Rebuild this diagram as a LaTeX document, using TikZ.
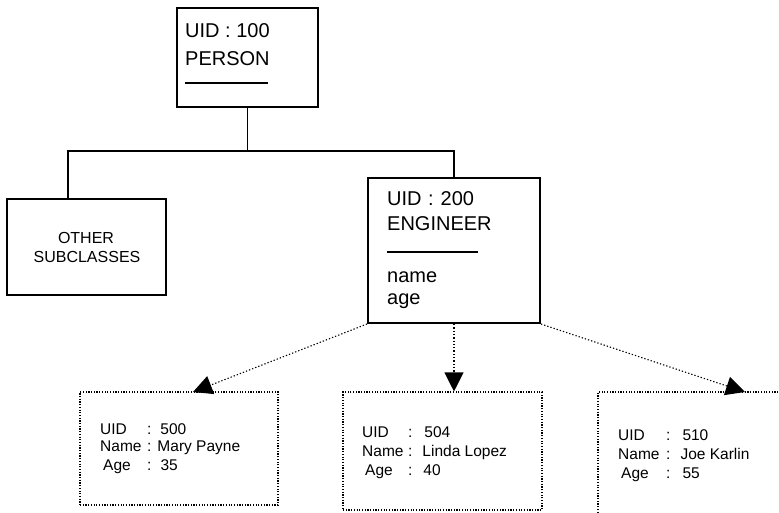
\documentclass[tikz,border=0pt]{standalone}
\usepackage{fontspec}
\setmainfont{Liberation Sans}
\usetikzlibrary{arrows.meta}
\begin{document}
\begin{tikzpicture}[x=1pt,y=-1pt,
  classbox/.style={draw, line width=2pt, inner sep=0pt},
  instbox/.style={draw, line width=1.1pt, dash pattern=on 1.2pt off 1.5pt, inner sep=0pt},
  tree/.style={line width=1.7pt},
  instarrow/.style={line width=1.1pt, dash pattern=on 1.3pt off 2pt, -{Triangle[length=19pt,width=19pt]}},
  rule/.style={line width=1.6pt},
  txt/.style={anchor=base west, inner sep=0pt},
  bigfont/.style={font=\fontsize{20}{23}\selectfont},
  midfont/.style={font=\fontsize{16}{19}\selectfont},
  smallfont/.style={font=\fontsize{15.5}{19}\selectfont}
]
\useasboundingbox (0,0) rectangle (779,512);

% class boxes
\node[classbox, minimum width=141pt, minimum height=99pt] (person) at (247.5,57.5) {};
\node[classbox, minimum width=159pt, minimum height=96pt] (other) at (86.5,247) {};
\node[classbox, minimum width=172pt, minimum height=145pt] (engineer) at (454,250.5) {};

% instance boxes
\node[instbox, minimum width=198pt, minimum height=113pt] (inst1) at (179,448.5) {};
\node[instbox, minimum width=199pt, minimum height=118pt] (inst2) at (442.5,451) {};
\node[instbox, minimum width=202pt, minimum height=138pt] (inst3) at (699,461) {};

% person text
\node[txt, bigfont] (p1) at (185,37) {UID : 100};
\node[txt, bigfont] (p2) at (185,65) {PERSON};
\coordinate (pr1) at (185,83);
\coordinate (pr2) at (268,83);
\draw[rule] (pr1) -- (pr2);

% other subclasses text
\node[midfont, inner sep=0pt, anchor=base] (o1) at (86,243) {OTHER};
\node[midfont, inner sep=0pt, anchor=base] (o2) at (87,262) {SUBCLASSES};

% engineer text
\node[txt, bigfont] (e1) at (387,205) {\makebox[41pt][l]{UID}:\hspace{7pt}200};
\node[txt, bigfont] (e2) at (387,230) {ENGINEER};
\coordinate (er1) at (387,252);
\coordinate (er2) at (478,252);
\draw[rule] (er1) -- (er2);
\node[txt, bigfont] (e3) at (387,282) {name};
\node[txt, bigfont] (e4) at (387,304) {age};

% instance texts
\node[txt, smallfont] (i1a) at (100,434) {\makebox[47pt][l]{UID}:\hspace{9pt}500};
\node[txt, smallfont] (i1b) at (100,451) {\makebox[47pt][l]{Name}:\hspace{6pt}Mary Payne};
\node[txt, smallfont] (i1c) at (100,470) {\makebox[47pt][l]{\hspace{3pt}Age}:\hspace{9pt}35};

\node[txt, smallfont] (i2a) at (362,437) {\makebox[46pt][l]{UID}:\hspace{12pt}504};
\node[txt, smallfont] (i2b) at (362,456) {\makebox[46pt][l]{Name}:\hspace{10pt}Linda Lopez};
\node[txt, smallfont] (i2c) at (362,475) {\makebox[46pt][l]{\hspace{3pt}Age}:\hspace{11pt}40};

\node[txt, smallfont] (i3a) at (618,440) {\makebox[48pt][l]{UID}:\hspace{12pt}510};
\node[txt, smallfont] (i3b) at (618,459) {\makebox[48pt][l]{Name}:\hspace{10pt}Joe Karlin};
\node[txt, smallfont] (i3c) at (618,478) {\makebox[48pt][l]{\hspace{3pt}Age}:\hspace{12pt}55};

% tree connectors
\coordinate (busL) at (68,151);
\coordinate (busR) at (454,151);
\draw[tree] (person.south) -- (person.south |- busL);
\draw[tree] (busL |- other.north) -- (busL) -- (busR) -- (engineer.north);

% instance arrows
\coordinate (a1) at (193,392);
\coordinate (a3) at (745,392);
\draw[instarrow] (engineer.south west) -- (a1);
\draw[instarrow] (engineer.south) -- (engineer.south |- inst2.north);
\draw[instarrow] (engineer.south east) -- (a3);
\end{tikzpicture}
\end{document}
